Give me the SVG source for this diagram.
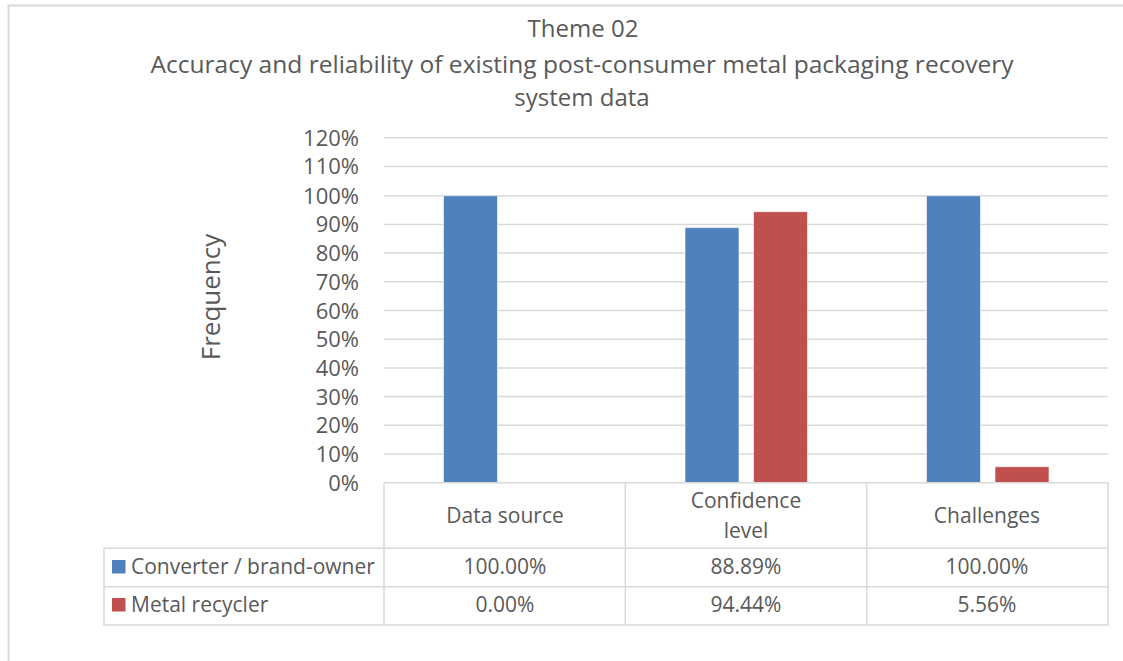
<svg xmlns="http://www.w3.org/2000/svg" width="1123" height="661" viewBox="0 0 1123 661">
  <style>
    text { font-family: "Open Sans", "Liberation Sans", sans-serif; fill: #595959; }
    .title { font-size: 24px; text-anchor: middle; }
    .tick { font-size: 22px; text-anchor: end; }
    .cell { font-size: 21px; text-anchor: middle; }
    .legend { font-size: 21px; }
    .grid { stroke: #D9D9D9; stroke-width: 1.5; }
    .tbl { stroke: #D9D9D9; stroke-width: 1.5; fill: none; }
    .blue { fill: #4F81BD; stroke: #ffffff; stroke-opacity: 0.6; stroke-width: 1; }
    .red { fill: #C0504D; stroke: #ffffff; stroke-opacity: 0.6; stroke-width: 1; }
  </style>

  <!-- chart area -->
  <rect x="0" y="0" width="1123" height="661" fill="#ffffff"/>
  <path d="M8.5,661 V5.5 H1123" fill="none" stroke="#D9D9D9" stroke-width="2"/>

  <!-- titles -->
  <g id="title">
    <text class="title" x="583" y="37">Theme 02</text>
    <text class="title" x="582" y="73" textLength="863" lengthAdjust="spacingAndGlyphs">Accuracy and reliability of existing post-consumer metal packaging recovery</text>
    <text class="title" x="582" y="106">system data</text>
  </g>

  <!-- axis title -->
  <g id="axis-title">
    <text transform="translate(220,297) rotate(-90)" font-size="26" text-anchor="middle">Frequency</text>
  </g>

  <!-- gridlines (0% .. 120%, 10% steps) -->
  <g id="gridlines">
    <line class="grid" x1="384" y1="137.7" x2="1108" y2="137.7"/>
    <line class="grid" x1="384" y1="166.4" x2="1108" y2="166.4"/>
    <line class="grid" x1="384" y1="195.7" x2="1108" y2="195.7"/>
    <line class="grid" x1="384" y1="224.4" x2="1108" y2="224.4"/>
    <line class="grid" x1="384" y1="253.1" x2="1108" y2="253.1"/>
    <line class="grid" x1="384" y1="281.8" x2="1108" y2="281.8"/>
    <line class="grid" x1="384" y1="310.5" x2="1108" y2="310.5"/>
    <line class="grid" x1="384" y1="339.2" x2="1108" y2="339.2"/>
    <line class="grid" x1="384" y1="367.9" x2="1108" y2="367.9"/>
    <line class="grid" x1="384" y1="396.6" x2="1108" y2="396.6"/>
    <line class="grid" x1="384" y1="425.3" x2="1108" y2="425.3"/>
    <line class="grid" x1="384" y1="454.0" x2="1108" y2="454.0"/>
  </g>

  <!-- value axis labels -->
  <g id="value-axis">
    <text class="tick" x="359" y="145.7">120%</text>
    <text class="tick" x="359" y="174.4">110%</text>
    <text class="tick" x="359" y="203.7">100%</text>
    <text class="tick" x="359" y="232.4">90%</text>
    <text class="tick" x="359" y="261.1">80%</text>
    <text class="tick" x="359" y="289.8">70%</text>
    <text class="tick" x="359" y="318.5">60%</text>
    <text class="tick" x="359" y="347.2">50%</text>
    <text class="tick" x="359" y="375.9">40%</text>
    <text class="tick" x="359" y="404.6">30%</text>
    <text class="tick" x="359" y="433.3">20%</text>
    <text class="tick" x="359" y="462.0">10%</text>
    <text class="tick" x="359" y="490.7">0%</text>
  </g>

  <!-- bars -->
  <g id="series-converter">
    <rect class="blue" x="443.5" y="195.7" width="54" height="287"/>
    <rect class="blue" x="685" y="227.6" width="54" height="255.1"/>
    <rect class="blue" x="926.5" y="195.7" width="54" height="287"/>
  </g>
  <g id="series-recycler">
    <rect class="red" x="753.5" y="211.7" width="54" height="271"/>
    <rect class="red" x="995" y="466.7" width="54" height="16"/>
  </g>

  <!-- data table -->
  <g id="data-table">
    <path class="tbl" d="M384,482.7 H1108 V625 H104 V548.3 H1108 M104,586.7 H1108 M384,482.7 V625 M625.3,482.7 V625 M866.7,482.7 V625"/>
    <text class="cell" x="505" y="523">Data source</text>
    <text class="cell" x="746" y="508">Confidence</text>
    <text class="cell" x="746" y="538">level</text>
    <text class="cell" x="987" y="523">Challenges</text>

    <rect x="112" y="560" width="13.5" height="13.5" fill="#4F81BD"/>
    <text class="legend" x="131" y="574">Converter / brand-owner</text>
    <text class="cell" x="505" y="574">100.00%</text>
    <text class="cell" x="746" y="574">88.89%</text>
    <text class="cell" x="987" y="574">100.00%</text>

    <rect x="112" y="598" width="13.5" height="13.5" fill="#C0504D"/>
    <text class="legend" x="131" y="612">Metal recycler</text>
    <text class="cell" x="505" y="612">0.00%</text>
    <text class="cell" x="746" y="612">94.44%</text>
    <text class="cell" x="987" y="612">5.56%</text>
  </g>
</svg>
